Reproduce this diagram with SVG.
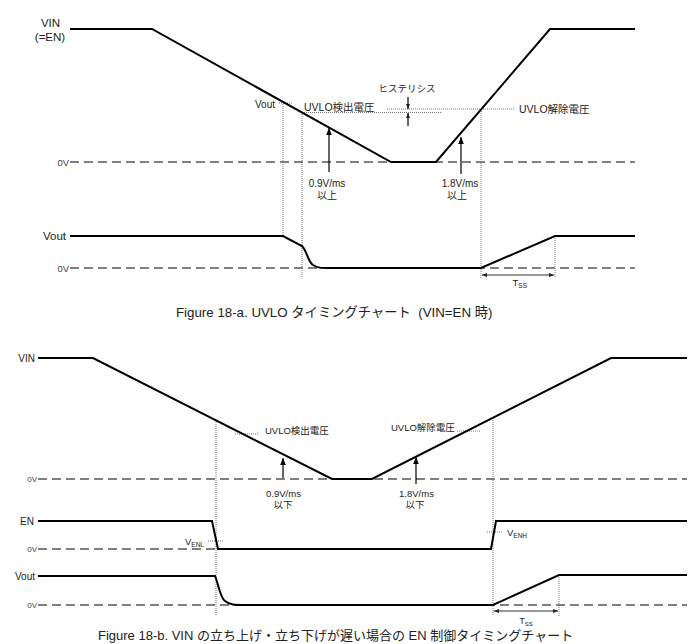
<svg xmlns="http://www.w3.org/2000/svg" width="688" height="644" viewBox="0 0 688 644">
<style>
text{font-family:"Liberation Sans","Noto Sans CJK JP",sans-serif;fill:#222}
.sig{fill:none;stroke:#000;stroke-width:2;stroke-linejoin:miter}
.zero{fill:none;stroke:#555;stroke-width:1.4;stroke-dasharray:9 5}
.dot{fill:none;stroke:#777;stroke-width:1;stroke-dasharray:1 1}
.arr{fill:none;stroke:#000;stroke-width:1.2}
.tss{fill:none;stroke:#333;stroke-width:1.2}
.lbl{font-size:11.5px}
.lbs{font-size:10px}
.zv{font-size:9.5px;fill:#444}
.zvs{font-size:8px;fill:#444}
.cap{font-size:13px}
</style>
<defs>
<marker id="ah" viewBox="0 0 10 10" refX="10" refY="5" markerWidth="7" markerHeight="7" orient="auto" markerUnits="userSpaceOnUse">
<path d="M0,1 L10,5 L0,9 Z" fill="#000"/>
</marker>
<marker id="ahs" viewBox="0 0 10 10" refX="10" refY="5" markerWidth="5" markerHeight="5" orient="auto-start-reverse" markerUnits="userSpaceOnUse">
<path d="M0,1 L10,5 L0,9 Z" fill="#222"/>
</marker>
</defs>

<!-- ===== Figure 18-a ===== -->
<g id="fig-a">
<g id="a-labels">
<text class="lbl" x="50.5" y="26.5" text-anchor="middle">VIN</text>
<text class="lbl" x="50" y="40.5" text-anchor="middle">(=EN)</text>
<text class="zv" x="69" y="165.5" text-anchor="end">0V</text>
<text class="lbl" x="66" y="240" text-anchor="end">Vout</text>
<text class="zv" x="69" y="271.5" text-anchor="end">0V</text>
</g>
<g id="a-zero">
<line class="zero" x1="70" y1="162" x2="635" y2="162"/>
<line class="zero" x1="70" y1="268" x2="635" y2="268"/>
</g>
<g id="a-guides">
<line class="dot" x1="283" y1="102" x2="283" y2="236"/>
<line class="dot" x1="302" y1="112" x2="302" y2="277"/>
<line class="dot" x1="481" y1="109" x2="481" y2="278"/>
<line class="dot" x1="555" y1="236" x2="555" y2="278"/>
<line class="dot" x1="279" y1="103" x2="292" y2="103"/>
<line class="dot" x1="302" y1="112.5" x2="441" y2="112.5"/>
<line class="dot" x1="387" y1="109" x2="514" y2="109"/>
</g>
<g id="a-vin">
<path class="sig" d="M70,29 H152 L391,162 H436 L550,29 H635"/>
</g>
<g id="a-vout">
<path class="sig" d="M70,236 H283 L302,246 C307,251 308,262 313,265 S320,268 330,268 H481 L555,236 H635"/>
</g>
<g id="a-annot">
<text class="lbs" x="255" y="108">Vout</text>
<text class="lbs" x="304" y="110.5" style="font-size:10.5px">UVLO検出電圧</text>
<text class="lbs" x="519" y="113" style="font-size:10.5px">UVLO解除電圧</text>
<text x="407" y="92" text-anchor="middle" style="font-size:9.5px">ヒステリシス</text>
<line class="arr" x1="408" y1="97" x2="408" y2="109" marker-end="url(#ahs)"/>
<line class="arr" x1="408" y1="126" x2="408" y2="113" marker-end="url(#ahs)"/>
<line class="arr" x1="329" y1="172" x2="329" y2="128" marker-end="url(#ah)"/>
<text class="lbs" x="327" y="186.5" text-anchor="middle">0.9V/ms</text>
<text class="lbs" x="327" y="199" text-anchor="middle">以上</text>
<line class="arr" x1="461" y1="174" x2="461" y2="137" marker-end="url(#ah)"/>
<text class="lbs" x="460" y="186.5" text-anchor="middle">1.8V/ms</text>
<text class="lbs" x="457" y="199" text-anchor="middle">以上</text>
<line class="tss" x1="482" y1="275" x2="554" y2="275" marker-start="url(#ahs)" marker-end="url(#ahs)"/>
<text x="512.5" y="286" style="font-size:9.5px">T<tspan style="font-size:6.5px" dy="1.5">SS</tspan></text>
</g>
<text class="cap" x="176" y="317" xml:space="preserve" style="font-size:13.3px">Figure 18-a. UVLO タイミングチャート  (VIN=EN 時)</text>
</g>

<!-- ===== Figure 18-b ===== -->
<g id="fig-b">
<g id="b-labels">
<text class="lbs" x="35" y="362" text-anchor="end">VIN</text>
<text class="zvs" x="37" y="482" text-anchor="end">0V</text>
<text class="lbs" x="34" y="525" text-anchor="end">EN</text>
<text class="zvs" x="37" y="552" text-anchor="end">0V</text>
<text class="lbs" x="35" y="580" text-anchor="end">Vout</text>
<text class="zvs" x="37" y="608" text-anchor="end">0V</text>
</g>
<g id="b-zero">
<line class="zero" x1="38" y1="479" x2="687" y2="479"/>
<line class="zero" x1="38" y1="549" x2="491" y2="549"/>
<line class="zero" x1="38" y1="605" x2="687" y2="605"/>
</g>
<g id="b-guides">
<line class="dot" x1="216" y1="420" x2="216" y2="615"/>
<line class="dot" x1="493" y1="418" x2="493" y2="616"/>
<line class="dot" x1="559" y1="575" x2="559" y2="616"/>
<line class="dot" x1="235" y1="434" x2="258" y2="434"/>
<line class="dot" x1="457" y1="431" x2="481" y2="431"/>
<line class="dot" x1="208" y1="541" x2="224" y2="541"/>
<line class="dot" x1="487" y1="532" x2="503" y2="532"/>
</g>
<g id="b-vin">
<path class="sig" d="M38,358 H93 L332,479 H372 L611,358 H687"/>
</g>
<g id="b-en">
<path class="sig" d="M38,521 H212 L218,549 H491 L496,521 H687"/>
</g>
<g id="b-vout">
<path class="sig" d="M38,576 H215 C219,586 220,597 225,601 S234,605 245,605 H493 L559,575 H687"/>
</g>
<g id="b-annot">
<text x="265" y="434" style="font-size:9.5px">UVLO検出電圧</text>
<text x="391" y="430.5" style="font-size:9.5px">UVLO解除電圧</text>
<line class="arr" x1="283" y1="478" x2="283" y2="458" marker-end="url(#ah)"/>
<text x="283.5" y="496.5" text-anchor="middle" style="font-size:9.5px">0.9V/ms</text>
<text x="283" y="508" text-anchor="middle" style="font-size:9.5px">以下</text>
<line class="arr" x1="416" y1="484" x2="416" y2="457" marker-end="url(#ah)"/>
<text x="416.5" y="496.5" text-anchor="middle" style="font-size:9.5px">1.8V/ms</text>
<text x="415" y="508" text-anchor="middle" style="font-size:9.5px">以下</text>
<text x="185" y="545" style="font-size:9.5px">V<tspan style="font-size:6.5px" dy="1.5">ENL</tspan></text>
<text x="507" y="536" style="font-size:9.5px">V<tspan style="font-size:6.5px" dy="1.5">ENH</tspan></text>
<line class="tss" x1="494" y1="611" x2="558" y2="611" marker-start="url(#ahs)" marker-end="url(#ahs)"/>
<text x="519.5" y="624" style="font-size:8.5px">T<tspan style="font-size:6px" dy="1.5">SS</tspan></text>
</g>
<text class="cap" x="98" y="640">Figure 18-b. VIN の立ち上げ・立ち下げが遅い場合の EN 制御タイミングチャート</text>
</g>
</svg>
